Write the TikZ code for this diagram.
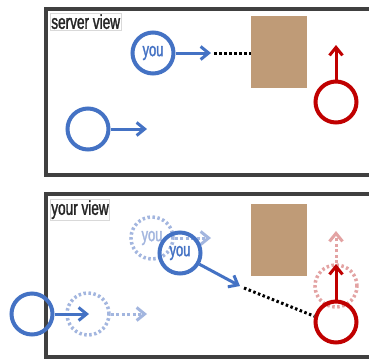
\documentclass[tikz,border=0pt]{standalone}
\usepackage{fontspec}
\newfontfamily\condfont[FakeStretch=0.68,FakeBold=1.5]{Liberation Sans}
\usetikzlibrary{arrows.meta}
\definecolor{myblue}{HTML}{4472C4}
\definecolor{fadeblue}{HTML}{A3B6DF}
\definecolor{myred}{HTML}{C00000}
\definecolor{fadered}{HTML}{E3A3A3}
\definecolor{brownbox}{HTML}{BF9B77}
\definecolor{frame}{HTML}{404040}
\tikzset{
  x=1pt, y=-1pt,
  viewframe/.style={draw=frame, line width=3.5pt},
  viewlabel/.style={draw=black!15, line width=0.6pt, fill=white, inner sep=1pt, anchor=north west, font=\condfont\fontsize{20}{20}\selectfont, text=black!85},
  player/.style={circle, draw=#1, line width=4pt, minimum size=41pt, inner sep=0pt},
  ghost/.style={circle, draw=#1, line width=3.5pt, dash pattern=on 2.5pt off 2.5pt, minimum size=42pt, inner sep=0pt},
  move/.style={draw=#1, line width=3pt, -{Straight Barb[length=8pt,width=13pt,line width=3pt]}},
  ghostmove/.style={draw=#1, line width=3pt, dash pattern=on 3pt off 2.5pt, -{Straight Barb[length=8pt,width=13pt,line width=3pt]}},
  sightline/.style={draw=black, line width=3pt, dash pattern=on 2.5pt off 2.5pt},
  wall/.style={fill=brownbox, draw=none, anchor=north west, inner sep=0pt},
  youtext/.style={font=\condfont\fontsize{19}{19}\selectfont}
}
\begin{document}
\begin{tikzpicture}
\useasboundingbox (0,0) rectangle (369,360);
\clip (0,0) rectangle (369,360);
\fill[white] (0,0) rectangle (369,360);
% ---------------- server view ----------------
\draw[viewframe] (46,9) rectangle (380,175);
\node[viewlabel] (lab1) at (50,13) {server view};
\node[wall, minimum width=56pt, minimum height=72pt] (wall1) at (251,16) {};
\node[player=myblue, text=myblue, youtext] (you1) at (153,53) {you};
\coordinate (you1tip) at (211,53);
\draw[move=myblue] (you1.east) -- (you1tip);
\coordinate (dot1a) at (214,53);
\draw[sightline] (dot1a) -- (wall1.west |- dot1a);
\node[player=myblue] (other1) at (88,129) {};
\coordinate (other1tip) at (147,129);
\draw[move=myblue] (other1.east) -- (other1tip);
\node[player=myred] (red1) at (336,102) {};
\coordinate (red1tip) at (336,45);
\draw[move=myred] (red1.north) -- (red1tip);
% ---------------- your view ----------------
\draw[viewframe] (46,194) rectangle (380,357);
\node[viewlabel] (lab2) at (50,199) {your view};
\node[wall, minimum width=56pt, minimum height=72pt] (wall2) at (251,204) {};
% ghosts
\node[ghost=fadeblue, text=fadeblue, youtext] (youg) at (152,238) {you};
\coordinate (yougtip) at (211,238);
\draw[ghostmove=fadeblue] (youg.east) -- (yougtip);
\node[ghost=fadeblue] (otherg) at (88,314) {};
\coordinate (othergtip) at (147,314);
\draw[ghostmove=fadeblue] (otherg.east) -- (othergtip);
\node[ghost=fadered] (redg) at (336,286) {};
\coordinate (redgtip) at (336,231);
\draw[ghostmove=fadered] (redg.north) -- (redgtip);
% solid
\node[player=myblue, text=myblue, youtext] (you2) at (180,253) {you};
\coordinate (you2tip) at (240,286);
\draw[move=myblue] (you2.-30) -- (you2tip);
\node[player=myred] (red2) at (336,322) {};
\coordinate (red2tip) at (336,264);
\draw[move=myred] (red2.north) -- (red2tip);
\coordinate (dot2a) at (244,288);
\draw[sightline] (dot2a) -- (red2.165);
\node[player=myblue] (other2) at (32,314) {};
\coordinate (other2tip) at (89,314);
\draw[move=myblue] (other2.east) -- (other2tip);
\end{tikzpicture}
\end{document}
